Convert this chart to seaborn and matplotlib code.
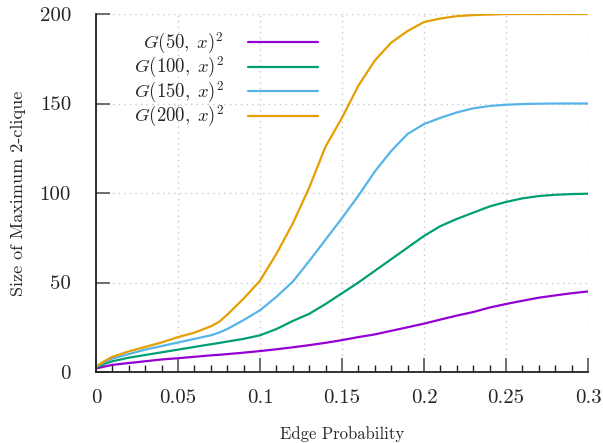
import numpy as np
import pandas as pd
import matplotlib
matplotlib.use('Agg')
import matplotlib.pyplot as plt
import seaborn as sns
from matplotlib.ticker import MultipleLocator

# edge probability grid
edge_prob = [0, 0.005, 0.01, 0.02, 0.03, 0.04, 0.05, 0.06, 0.07, 0.075, 0.08, 0.09,
             0.1, 0.11, 0.12, 0.13, 0.14, 0.15, 0.16, 0.17, 0.18, 0.19, 0.2,
             0.21, 0.22, 0.23, 0.24, 0.25, 0.26, 0.27, 0.28, 0.29, 0.3]

# size of maximum 2-clique for each graph size
g50 = [2, 3, 4, 5, 6, 7, 7.7, 8.5, 9.3, 9.6, 10, 10.8,
       11.7, 12.7, 13.8, 15, 16.3, 17.8, 19.5, 21, 23, 25, 27,
       29.3, 31.5, 33.5, 36, 38, 39.8, 41.5, 42.8, 44, 45]
g100 = [2.5, 4.5, 6, 8, 9.5, 11, 12.5, 14, 15.5, 16.2, 17, 18.5,
        20.5, 24, 28.5, 32.5, 38, 44, 50, 56.5, 63, 69.5, 76,
        81.5, 85.5, 89, 92.5, 95, 97, 98.3, 99, 99.4, 99.6]
g150 = [3, 5.5, 7.5, 10, 12.5, 14.5, 16.5, 18.5, 20.5, 22, 24, 29,
        34.5, 42, 50.5, 62, 74, 86, 98.5, 112, 123.5, 133, 138.5,
        142, 145, 147.3, 148.6, 149.3, 149.7, 149.9, 150, 150, 150]
g200 = [3, 6, 8.5, 11.5, 14, 16.5, 19.5, 22, 25.5, 28, 32, 41,
        51, 66, 83, 103, 126, 142, 160, 174, 184, 190.5, 195.5,
        197.5, 198.8, 199.4, 199.7, 200, 200, 200, 200, 200, 200]

labels = [r'$G(50,\;x)^2$', r'$G(100,\;x)^2$', r'$G(150,\;x)^2$', r'$G(200,\;x)^2$']
colors = ['#9400d3', '#009e73', '#56b4e9', '#e69f00']

x_ticks = [0, 0.05, 0.1, 0.15, 0.2, 0.25, 0.3]
x_ticklabels = ['0', '0.05', '0.1', '0.15', '0.2', '0.25', '0.3']
y_ticks = [0, 50, 100, 150, 200]

sns.set_style('white')
plt.rcParams['font.family'] = ['cmr10', 'DejaVu Serif']
plt.rcParams['mathtext.fontset'] = 'cm'
plt.rcParams['axes.formatter.use_mathtext'] = True

fig = plt.figure(figsize=(6.03, 4.43), dpi=100)
ax = fig.add_axes([96/603, 71/443, 492/603, 358/443])

for ys, lab, c in zip([g50, g100, g150, g200], labels, colors):
    sns.lineplot(x=edge_prob, y=ys, ax=ax, color=c, label=lab, linewidth=1.6)

ax.set_xlim(0, 0.3)
ax.set_ylim(0, 200)
ax.set_xticks(x_ticks)
ax.set_xticklabels(x_ticklabels)
ax.xaxis.set_minor_locator(MultipleLocator(0.01))
ax.set_yticks(y_ticks)
ax.set_yticklabels([str(v) for v in y_ticks])

ax.grid(True, which='major', color='#c8c8c8', linestyle=(0, (1, 3)), linewidth=1)
for s in ['top', 'right']:
    ax.spines[s].set_visible(False)
for s in ['left', 'bottom']:
    ax.spines[s].set_color('#222222')
    ax.spines[s].set_linewidth(1.3)

ax.tick_params(axis='both', which='both', bottom=True, left=True, top=False, right=False)
ax.tick_params(axis='both', which='major', direction='in', length=10, width=1.2,
               color='#555555', labelsize=15)
ax.tick_params(axis='x', which='minor', direction='in', length=5, width=1, color='#222222')
ax.tick_params(axis='x', which='major', pad=12)
ax.tick_params(axis='y', which='major', pad=18)

ax.set_xlabel('Edge Probability', fontsize=12, labelpad=14)
ax.set_ylabel('Size of Maximum 2-clique', fontsize=13, labelpad=10)

leg = ax.legend(loc='upper right', bbox_to_anchor=(0.467, 0.975), frameon=False,
                markerfirst=False, fontsize=13.5, handlelength=3.75, handletextpad=1.3,
                labelspacing=-0.03, borderaxespad=0)

fig.savefig('out.png', dpi=100)
